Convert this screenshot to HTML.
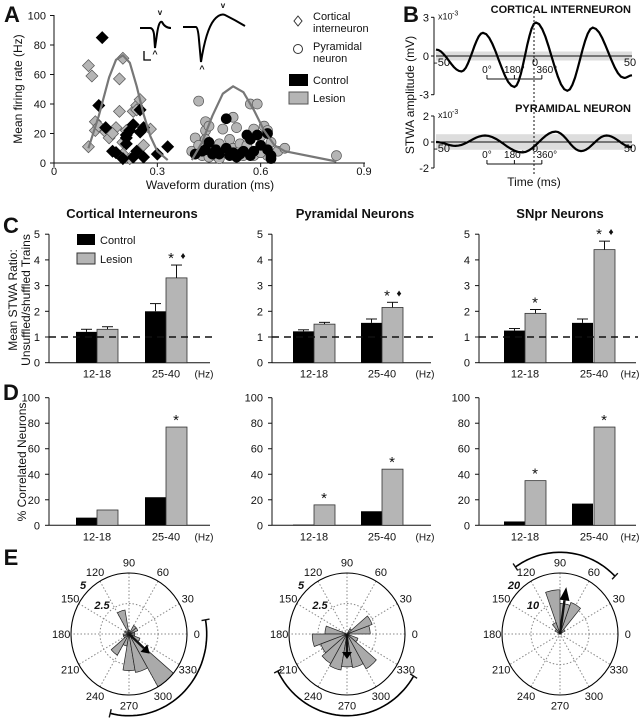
<!DOCTYPE html>
<html><head><meta charset="utf-8">
<style>
html,body{margin:0;padding:0;background:#fff;}
svg{display:block;font-family:"Liberation Sans",sans-serif;}
</style></head>
<body>
<svg id="fig" width="641" height="719" viewBox="0 0 641 719" xmlns="http://www.w3.org/2000/svg">
<rect width="641" height="719" fill="#fff"/>
</svg>
<script>
// ===== Panel A data =====
const ciLesionX=[0.10,0.11,0.10,0.12,0.12,0.13,0.15,0.16,0.18,0.19,0.19,0.20,0.18,0.20,0.21,0.20,0.23,0.24,0.25,0.24,0.26,0.28,0.22,0.17];
const ciLesionY=[66,59,11,28,22,25,21,17,24,35,57,71,7,6,22,14,35,39,43,36,12,23,3,20];
const ciControlX=[0.14,0.13,0.15,0.17,0.18,0.21,0.21,0.21,0.20,0.23,0.23,0.24,0.25,0.25,0.26,0.26,0.30,0.33,0.22];
const ciControlY=[85,39,24,8,7,19,17,13,3,26,4,8,21,36,4,24,6,11,22];
const pyrLesionX=[0.42,0.40,0.41,0.42,0.43,0.44,0.44,0.45,0.46,0.47,0.48,0.49,0.50,0.51,0.52,0.52,0.53,0.54,0.55,0.56,0.57,0.58,0.59,0.60,0.61,0.62,0.63,0.65,0.67,0.82,0.45,0.53,0.58,0.62,0.60,0.44,0.48];
const pyrLesionY=[42,8,17,12,5,22,28,25,7,5,13,23,7,16,31,10,24,13,5,12,40,23,40,18,25,22,14,8,10,5,4,7,5,5,7,16,3];
const pyrControlX=[0.43,0.44,0.45,0.46,0.48,0.50,0.50,0.51,0.52,0.53,0.55,0.56,0.57,0.57,0.58,0.59,0.60,0.62,0.62,0.63,0.63,0.41,0.47,0.54];
const pyrControlY=[8,9,14,6,6,30,10,5,7,4,8,19,5,16,8,19,12,9,20,5,3,6,9,6];
const fitLeftX=[0.10,0.13,0.16,0.18,0.20,0.22,0.24,0.26,0.28,0.30,0.33];
const fitLeftY=[10,32,58,70,73,68,52,33,18,8,2];
const fitRightX=[0.40,0.43,0.46,0.49,0.52,0.55,0.58,0.61,0.64,0.67,0.82];
const fitRightY=[2,14,32,47,52,48,36,22,12,8,1];
const aXTicks=[0,0.3,0.6,0.9];
const aYTicks=[0,20,40,60,80,100];
// ===== Panel B data (extrema ms, value x1e-3) =====
const bTopT=[-50,-37,-26,-10,1,17,30,46,50];
const bTopV=[0.5,-1.2,1.8,-2.4,2.6,-2.7,2.2,-1.7,-1.5];
const bBotT=[-50,-40,-25,-6,11,24,37,50];
const bBotV=[0,-0.3,0.5,-0.8,0.8,-0.7,0.5,-0.4];
// ===== Panel C data =====
const cCategories=["12-18","25-40"];
const cCtrl=[[1.2,2.0],[1.22,1.55],[1.25,1.55]];
const cCtrlErr=[[0.1,0.3],[0.06,0.15],[0.08,0.15]];
const cLes=[[1.3,3.3],[1.5,2.15],[1.92,4.4]];
const cLesErr=[[0.1,0.5],[0.07,0.2],[0.15,0.33]];
const cYTicks=[0,1,2,3,4,5];
// ===== Panel D data =====
const dCtrl=[[6,22],[0.5,11],[3,17]];
const dLes=[[12,77],[16,44],[35,77]];
const dYTicks=[0,20,40,60,80,100];
// ===== Panel E data (20° bins, start angle) =====
const e1Bins=[0,20,40,80,100,140,180,200,220,240,260,280,300,320,340];
const e1Vals=[0.5,0.8,0.8,0.3,2.0,0.4,0.5,0.5,2.0,1.0,3.0,3.2,5.0,1.0,0.5];
const e2Bins=[0,20,40,160,180,200,220,240,260,280,300,320];
const e2Vals=[2.0,2.3,0.5,1.9,3.0,2.4,2.8,3.0,2.7,2.8,3.3,1.0];
const e3Bins=[30,50,70,90,110,130];
const e3Vals=[2,11,10,14.5,4,2];
const eArrowAng=[318,270,82];
const eArrowLen=[2.4,2.05,15.5];
const eMax=[5,5,20];
const eArcFrom=[256,207,45];
const eArcTo=[370,329,125];

const NS="http://www.w3.org/2000/svg";
const svg=document.getElementById('fig');
function mk(tag,attrs,name,parent){
  const el=document.createElementNS(NS,tag);
  for(const k in attrs) el.setAttribute(k,attrs[k]);
  
  
  (parent||svg).appendChild(el);
  return el;
}
function txt(x,y,s,name,opt){
  opt=opt||{};
  const t=mk('text',{x:x,y:y,'font-size':opt.fs||11,'text-anchor':opt.anchor||'middle',fill:'#111','font-weight':opt.bold?'bold':'normal','font-style':opt.italic?'italic':'normal'},name);
  if(opt.rot) t.setAttribute('transform','rotate(-90 '+x+' '+y+')');
  t.textContent=s;return t;
}
function line(x1,y1,x2,y2,name,opt){
  opt=opt||{};
  return mk('line',{x1:x1,y1:y1,x2:x2,y2:y2,stroke:opt.c||'#111','stroke-width':opt.w||1,'stroke-dasharray':opt.dash||'none'},name);
}
// panel letters
txt(12,22,'A','panel-label-a',{fs:22,bold:true});
txt(411,22,'B','panel-label-b',{fs:22,bold:true});
txt(11,233,'C','panel-label-c',{fs:22,bold:true});
txt(11,400,'D','panel-label-d',{fs:22,bold:true});
txt(11,565,'E','panel-label-e',{fs:22,bold:true});

// ===== Panel A =====
const ax=v=>54+v*(310/0.9), ay=v=>163-v*1.475;
line(54,15,54,163,'a-y-axis');line(54,163,365,163,'a-x-axis');
aXTicks.forEach(v=>{line(ax(v),163,ax(v),167,'a-x-tick');txt(ax(v),175,String(v),'a-x-tick-label');});
aYTicks.forEach(v=>{line(50,ay(v),54,ay(v),'a-y-tick');txt(46,ay(v)+4,String(v),'a-y-tick-label',{anchor:'end'});});
txt(210,189,'Waveform duration  (ms)','a-x-axis-title',{fs:12});
txt(22,89,'Mean firing rate  (Hz)','a-y-axis-title',{fs:12,rot:true});
function curve(xs,ys,name){
  let d='';xs.forEach((x,i)=>{d+=(i?'L':'M')+ax(x).toFixed(1)+','+ay(ys[i]).toFixed(1);});
  mk('path',{d:d,fill:'none',stroke:'#777','stroke-width':2.2,'stroke-linejoin':'round'},name);
}
function diamonds(xs,ys,fill,name){xs.forEach((x,i)=>{const cx=ax(x),cy=ay(ys[i]);
  mk('path',{d:`M${cx},${cy-6}L${cx+6},${cy}L${cx},${cy+6}L${cx-6},${cy}Z`,fill:fill,stroke:fill=='#000'?'#000':'#555','stroke-width':0.7},name);});}
function circles(xs,ys,fill,name){xs.forEach((x,i)=>{mk('circle',{cx:ax(x),cy:ay(ys[i]),r:5,fill:fill,stroke:fill=='#000'?'#000':'#555','stroke-width':0.7},name);});}
circles(pyrLesionX,pyrLesionY,'#b5b5b5','pyramidal-lesion-point');
circles(pyrControlX,pyrControlY,'#000','pyramidal-control-point');
diamonds(ciLesionX,ciLesionY,'#b5b5b5','interneuron-lesion-point');
diamonds(ciControlX,ciControlY,'#000','interneuron-control-point');
curve(fitLeftX,fitLeftY,'interneuron-fit-curve');
curve(fitRightX,fitRightY,'pyramidal-fit-curve');
// waveforms
mk('path',{d:'M140,28L150,28Q153,28 154,34L155,48L157,34Q159,20 162,22Q165,28 171,28',fill:'none',stroke:'#000','stroke-width':2},'interneuron-waveform');
mk('path',{d:'M183,27L196,27Q198,27 199,40L201,62Q206,30 214,20Q220,13 225,15Q235,20 245,26',fill:'none',stroke:'#000','stroke-width':2},'pyramidal-waveform');
mk('path',{d:'M144,51L144,60L151,60',fill:'none',stroke:'#000','stroke-width':1.3},'scale-bar');
txt(160,15,'v','waveform-marker',{fs:8,bold:true});txt(155,57,'^','waveform-marker',{fs:9,bold:true});
txt(223,8,'v','waveform-marker',{fs:8,bold:true});txt(202,72,'^','waveform-marker',{fs:9,bold:true});
// legend A
mk('path',{d:'M298,16L302,21L298,26L294,21Z',fill:'#fff',stroke:'#333'},'legend-diamond-icon');
txt(313,20,'Cortical','legend-interneuron-label',{anchor:'start'});txt(313,32,'interneuron','legend-interneuron-label',{anchor:'start'});
mk('circle',{cx:298,cy:49,r:4.5,fill:'#fff',stroke:'#333'},'legend-circle-icon');
txt(313,50,'Pyramidal','legend-pyramidal-label',{anchor:'start'});txt(313,62,'neuron','legend-pyramidal-label',{anchor:'start'});
mk('rect',{x:289,y:74,width:19,height:12,fill:'#000'},'legend-control-swatch');txt(313,84,'Control','legend-control-label',{anchor:'start'});
mk('rect',{x:289,y:92,width:19,height:12,fill:'#b5b5b5',stroke:'#555'},'legend-lesion-swatch');txt(313,102,'Lesion','legend-lesion-label',{anchor:'start'});

// ===== Panel B =====
const bx=t=>534+t*1.96;
function wave(ts,vs,y0,k,name){
  let d='M'+bx(ts[0])+','+(y0-vs[0]*k);
  for(let i=1;i<ts.length;i++){for(let s=1;s<=10;s++){const f=s/10,t=ts[i-1]+(ts[i]-ts[i-1])*f,w=(1-Math.cos(Math.PI*f))/2,v=vs[i-1]+(vs[i]-vs[i-1])*w;d+='L'+bx(t).toFixed(1)+','+(y0-v*k).toFixed(1);}}
  mk('path',{d:d,fill:'none',stroke:'#000','stroke-width':2.2},name);
}
function bPanel(y0,k,band,top,name,ts,vs,ticks,lbl,degY){
  mk('rect',{x:bx(-50),y:y0-band*k,width:bx(50)-bx(-50),height:2*band*k,fill:'#ddd'},name+'-confidence-band');
  line(bx(-50),y0,bx(50),y0,name+'-zero-line');
  line(434,y0-ticks[0]*k,434,y0+ticks[0]*k,name+'-y-axis');
  [ticks[0],0,-ticks[0]].forEach(v=>{line(431,y0-v*k,434,y0-v*k,name+'-y-tick');txt(429,y0-v*k+4,String(v),name+'-y-tick-label',{anchor:'end'});});
  txt(438,y0-ticks[0]*k+2,'x10','exponent-label',{anchor:'start',fs:9});txt(452,y0-ticks[0]*k-2,'-3','exponent-label',{anchor:'start',fs:7});
  txt(bx(-50)+6,y0+10,'-50','x-tick-label');txt(bx(0)+1,y0+10,'0','x-tick-label');txt(bx(50)-2,y0+10,'50','x-tick-label');
  txt(631,top,lbl,name+'-title',{anchor:'end',fs:11,bold:true});
  wave(ts,vs,y0,k,name+'-stwa-trace');
  const x0=bx(-24),x1=bx(4);
  line(x0,degY,x1,degY,name+'-phase-bracket');
  [x0,(x0+x1)/2,x1].forEach(x=>line(x,degY,x,degY-4,name+'-phase-tick'));
  txt(x0,degY-6,'0°','phase-label',{fs:10});txt((x0+x1)/2,degY-6,'180°','phase-label',{fs:10});txt(x1+5,degY-6,'360°','phase-label',{fs:10});
}
bPanel(56,12.9,0.35,13,'b-interneuron',bTopT,bTopV,[3],'CORTICAL INTERNEURON',79);
bPanel(142,13,0.6,112,'b-pyramidal',bBotT,bBotV,[2],'PYRAMIDAL NEURON',164);
line(534,12,534,175,'b-time-zero-line',{dash:'2,2'});
txt(534,186,'Time  (ms)','b-x-axis-title',{fs:12});
txt(414,95,'STWA amplitude (mV)','b-y-axis-title',{fs:12,rot:true});

// ===== Panels C & D =====
const axisX=[49,272,479];
const barX=[[76,97,145,166],[293,314,361,382],[504,525,572,594]];
const axisEnd=[210,431,636];
const titles=['Cortical Interneurons','Pyramidal Neurons','SNpr Neurons'];
const titleX=[132,355,560];
const cMark=[[null,'*♦'],[null,'*♦'],['*','*♦']];
const dMark=[[null,'*'],['*','*'],['*','*']];
titles.forEach((t,p)=>txt(titleX[p],218,t,'panel-title',{fs:13,bold:true}));
function barPanel(p,y0,k,ticks,ctrl,les,cErr,lErr,marks,pre,dashed){
  const X=axisX[p],cy=v=>y0-v*k;
  line(X,cy(ticks[ticks.length-1]),X,y0,pre+'-y-axis');line(X,y0,axisEnd[p],y0,pre+'-x-axis');
  ticks.forEach(v=>{line(X-4,cy(v),X,cy(v),pre+'-y-tick');txt(X-9,cy(v)+4,String(v),pre+'-y-tick-label',{anchor:'end'});});
  for(let g=0;g<2;g++){
    const xc=barX[p][g*2],xl=barX[p][g*2+1];
    mk('rect',{x:xc,y:cy(ctrl[p][g]),width:21,height:ctrl[p][g]*k,fill:'#000'},pre+'-control-bar');
    mk('rect',{x:xl,y:cy(les[p][g]),width:21,height:les[p][g]*k,fill:'#b5b5b5',stroke:'#333','stroke-width':0.8},pre+'-lesion-bar');
    if(cErr){
      const ec=cy(ctrl[p][g]+cErr[p][g]),el=cy(les[p][g]+lErr[p][g]);
      line(xc+10.5,cy(ctrl[p][g]),xc+10.5,ec,pre+'-control-error');line(xc+5,ec,xc+16,ec,pre+'-control-error-cap');
      line(xl+10.5,cy(les[p][g]),xl+10.5,el,pre+'-lesion-error');line(xl+5,el,xl+16,el,pre+'-lesion-error-cap');
    }
    const m=marks[p][g];
    if(m){const top=cy(les[p][g]+(lErr?lErr[p][g]:0))-6;
      txt(xl+(m.length>1?5:10),top+4,'*','significance-star',{fs:15});
      if(m.length>1) txt(xl+17,top,'♦','significance-diamond',{fs:10});}
    txt(xl,y0+15,cCategories[g],pre+'-category-label');
  }
  txt(axisEnd[p]-6,y0+15,'(Hz)','hz-label',{fs:10});
  if(dashed) line(X,cy(1),axisEnd[p]+2,cy(1),pre+'-baseline-dashed',{dash:'7,5',w:1.6});
}
for(let p=0;p<3;p++){
  barPanel(p,362.7,25.7,cYTicks,cCtrl,cLes,cCtrlErr,cLesErr,cMark,'c-panel'+(p+1),true);
  barPanel(p,525.3,1.276,dYTicks,dCtrl,dLes,null,null,dMark,'d-panel'+(p+1),false);
}
mk('rect',{x:77,y:234,width:18,height:11,fill:'#000'},'c-legend-control-swatch');txt(100,244,'Control','c-legend-control-label',{anchor:'start'});
mk('rect',{x:77,y:253,width:18,height:11,fill:'#b5b5b5',stroke:'#333'},'c-legend-lesion-swatch');txt(100,263,'Lesion','c-legend-lesion-label',{anchor:'start'});
txt(17,300,'Mean STWA Ratio:','c-y-axis-title',{fs:12,rot:true});
txt(30,300,'Unsuffled/shuffled Trains','c-y-axis-title',{fs:12,rot:true});
txt(26,462,'% Correlated Neurons','d-y-axis-title',{fs:12,rot:true});

// ===== Panel E =====
const eCX=[129,347,560],eCY=634,RX=58,RY=61;
const eBins=[e1Bins,e2Bins,e3Bins],eVals=[e1Vals,e2Vals,e3Vals];
const eInner=[['5','2.5'],['5','2.5'],['20','10']];
function pt(p,ang,f){const a=ang*Math.PI/180;return [eCX[p]+RX*f*Math.cos(a),eCY-RY*f*Math.sin(a)];}
for(let p=0;p<3;p++){
  const cx=eCX[p];
  mk('ellipse',{cx:cx,cy:eCY,rx:RX/2,ry:RY/2,fill:'none',stroke:'#888','stroke-dasharray':'1.5,2'},'e-inner-ring');
  for(let a=0;a<180;a+=30){const q1=pt(p,a,1),q2=pt(p,a+180,1);line(q1[0],q1[1],q2[0],q2[1],'e-spoke',{c:'#888',dash:'1.5,2'});}
  eBins[p].forEach((b,i)=>{const f=eVals[p][i]/eMax[p];let d='M'+cx+','+eCY;
    for(let s=0;s<=6;s++){const q=pt(p,b+20*s/6,f);d+='L'+q[0].toFixed(1)+','+q[1].toFixed(1);}
    mk('path',{d:d+'Z',fill:'#aaa',stroke:'#222','stroke-width':0.7},'e-rose-petal');});
  mk('ellipse',{cx:cx,cy:eCY,rx:RX,ry:RY,fill:'none',stroke:'#000','stroke-width':1.1},'e-outer-ring');
  for(let a=0;a<360;a+=30){const q=pt(p,a,1.17);txt(q[0],q[1]+4,String(a),'e-angle-label');}
  txt(cx-46,589,eInner[p][0],'e-radius-label',{bold:true,italic:true,fs:11});
  txt(cx-27,609,eInner[p][1],'e-radius-label',{bold:true,italic:true,fs:11});
  const f=eArrowLen[p]/eMax[p],tip=pt(p,eArrowAng[p],f),back=pt(p,eArrowAng[p],f*0.72);
  line(cx,eCY,back[0],back[1],'e-mean-vector',{w:2.4});
  const a=eArrowAng[p]*Math.PI/180,nx=-Math.sin(a)*5,ny=-Math.cos(a)*5;
  mk('path',{d:`M${tip[0]},${tip[1]}L${back[0]+nx},${back[1]+ny}L${back[0]-nx},${back[1]-ny}Z`,fill:'#000'},'e-mean-vector-head');
  let d='';for(let s=0;s<=40;s++){const ang=eArcFrom[p]+(eArcTo[p]-eArcFrom[p])*s/40,q=pt(p,ang,1.34);d+=(s?'L':'M')+q[0].toFixed(1)+','+q[1].toFixed(1);}
  mk('path',{d:d,fill:'none',stroke:'#000','stroke-width':1.6},'e-confidence-arc');
  [eArcFrom[p],eArcTo[p]].forEach(ang=>{const q1=pt(p,ang,1.27),q2=pt(p,ang,1.41);line(q1[0],q1[1],q2[0],q2[1],'e-arc-end-tick',{w:1.4});});
}
</script>
</body></html>
